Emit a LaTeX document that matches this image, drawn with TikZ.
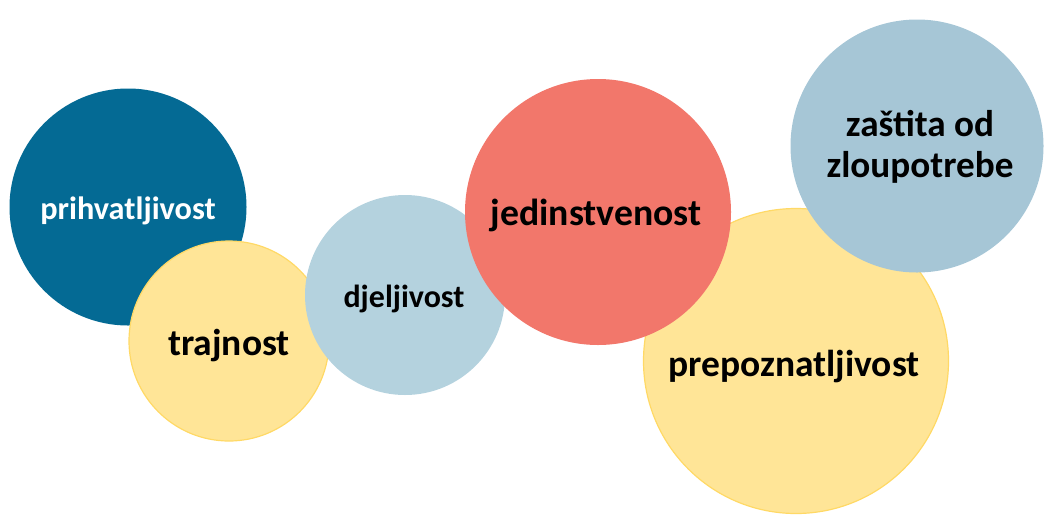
\documentclass[tikz,border=0pt]{standalone}
\usepackage{fontspec}
\setmainfont{Carlito}
\definecolor{darkblue}{HTML}{046A94}
\definecolor{lightblueA}{HTML}{B4D2DE}
\definecolor{lightblueB}{HTML}{A6C6D6}
\definecolor{salmon}{HTML}{F2776B}
\definecolor{yellowfill}{HTML}{FFE597}
\definecolor{yellowline}{HTML}{FFD966}
\begin{document}
\begin{tikzpicture}[x=1pt,y=-1pt,
  bubble/.style={circle, inner sep=0pt},
  yellowbubble/.style={bubble, fill=yellowfill, draw=yellowline, line width=1.2pt},
  txt/.style={inner sep=0pt, align=center}]
\useasboundingbox (0,0) rectangle (1046,515);
\node[bubble, fill=darkblue, minimum size=237pt] (prih) at (128,207) {};
\node[txt, text=white, font=\bfseries\fontsize{32.3}{38}\selectfont] (prihT) at ([yshift=-4pt]prih.center) {prihvatljivost};
\node[yellowbubble, minimum size=200pt] (traj) at (229,341) {};
\node[txt, font=\bfseries\fontsize{37.5}{42}\selectfont] (trajT) at ([yshift=-5pt]traj.center) {trajnost};
\node[bubble, fill=lightblueA, minimum size=200pt] (djel) at (405,295) {};
\node[txt, font=\bfseries\fontsize{32}{38}\selectfont] (djelT) at ([xshift=-1pt,yshift=-4pt]djel.center) {djeljivost};
\node[yellowbubble, minimum size=305pt] (prep) at (796,361) {};
\node[txt, font=\bfseries\fontsize{37.5}{42}\selectfont] (prepT) at ([xshift=-2pt,yshift=-6pt]prep.center) {prepoznatljivost};
\node[bubble, fill=salmon, minimum size=266pt] (jed) at (598,212) {};
\node[txt, font=\bfseries\fontsize{37.7}{42}\selectfont] (jedT) at ([xshift=-2pt,yshift=-3pt]jed.center) {jedinstvenost};
\node[bubble, fill=lightblueB, minimum size=253pt] (zast) at (917,146) {};
\node[txt, font=\bfseries\fontsize{37.2}{41}\selectfont] (zastT) at ([xshift=3pt,yshift=-1pt]zast.center) {zaštita od\\zloupotrebe};
\end{tikzpicture}
\end{document}
